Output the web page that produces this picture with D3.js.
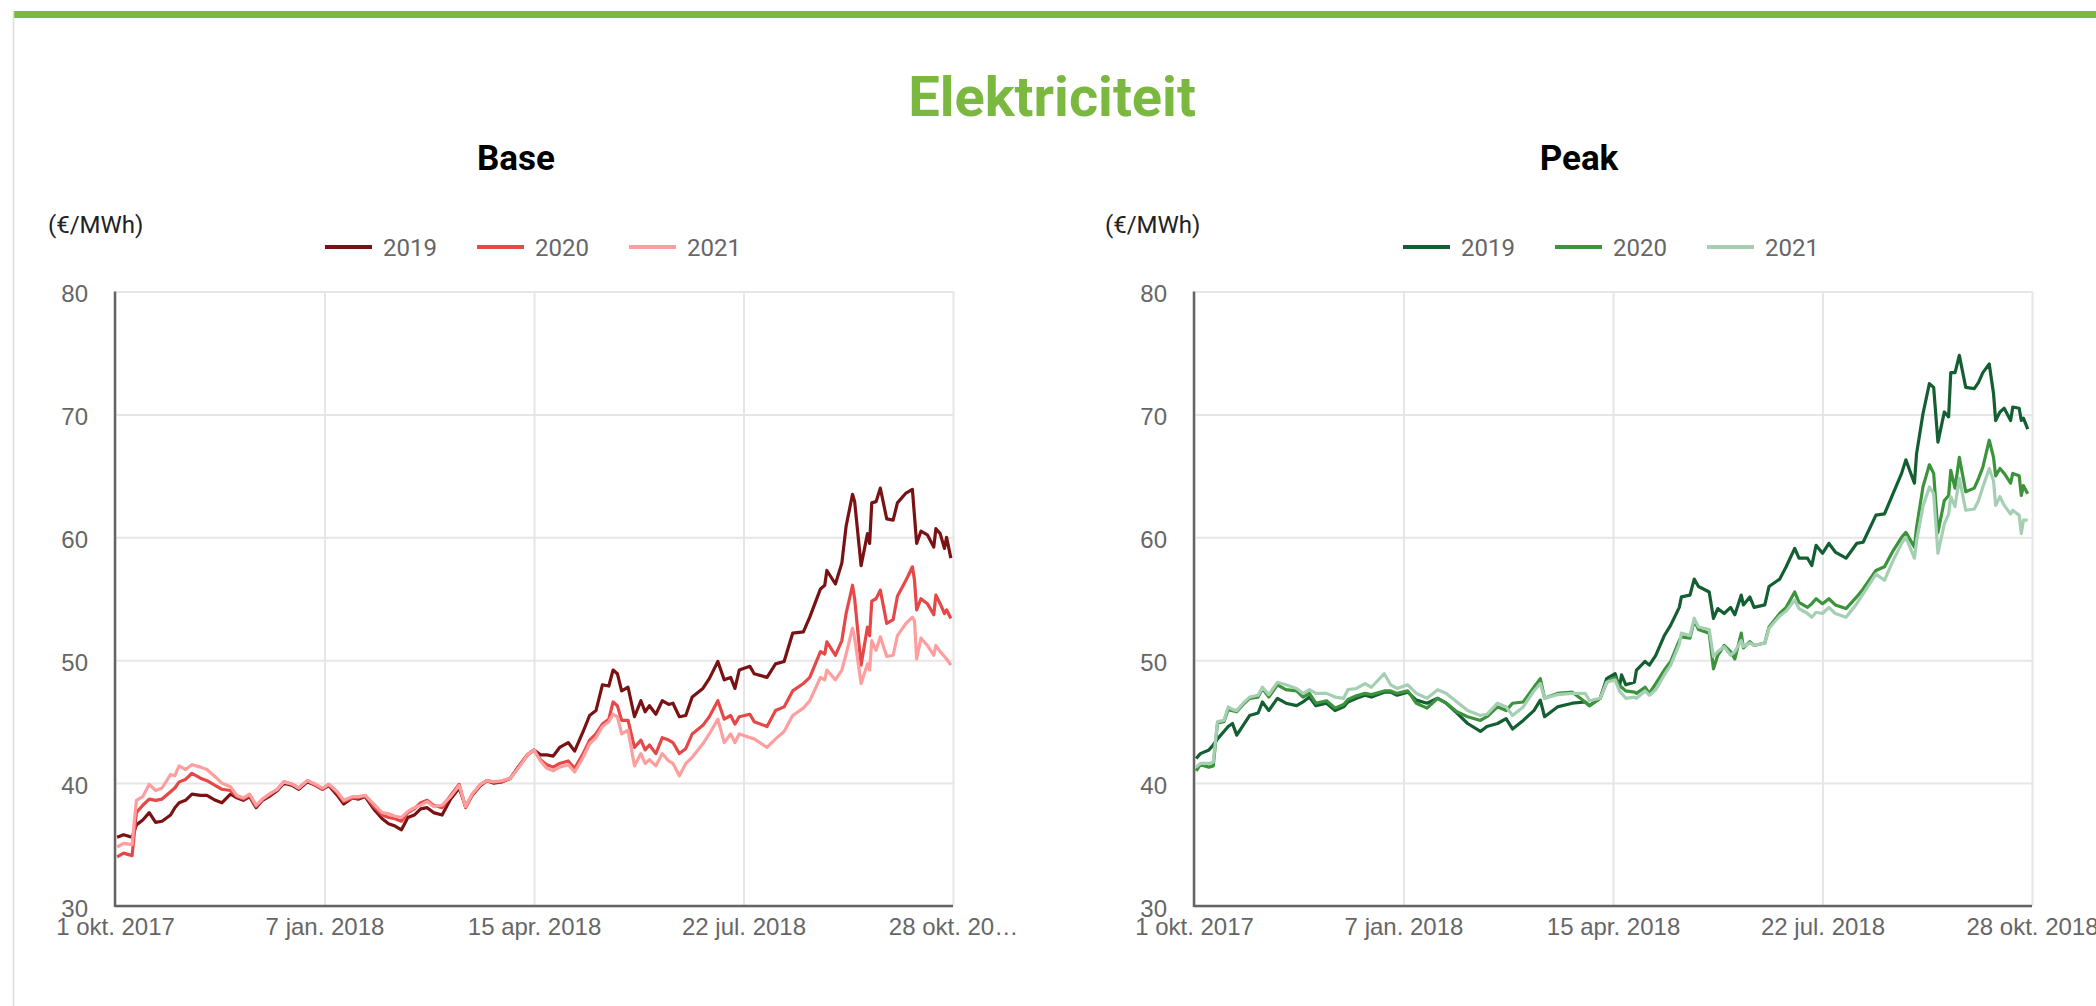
<!DOCTYPE html>
<html>
<head>
<meta charset="utf-8">
<script src="https://cdn.jsdelivr.net/npm/d3@7"></script>
<style>
  body { margin: 0; background: #fff; }
  svg { display: block; font-family: Roboto, "Noto Sans", sans-serif; }
</style>
</head>
<body>
<svg id="chart" width="2096" height="1006"></svg>
<script>
const years = ["2019", "2020", "2021"];
const tickDates = ["2017-10-01", "2018-01-07", "2018-04-15", "2018-07-22", "2018-10-28"];
const tickLabels = ["1 okt. 2017", "7 jan. 2018", "15 apr. 2018", "22 jul. 2018", "28 okt. 2018"];
const yTicks = [30, 40, 50, 60, 70, 80];

// days since 1 okt. 2017
const baseDays = [1,4,8,10,13,16,19,22,26,28,30,33,36,40,43,47,50,54,57,60,63,66,69,72,76,79,83,86,90,94,97,100,104,107,111,114,117,121,125,128,131,134,137,140,143,146,149,153,157,161,164,167,171,174,177,181,185,189,193,196,199,202,205,208,212,215,219,222,225,228,231,233,235,237,240,243,246,248,250,253,256,259,261,264,267,270,275,278,282,285,288,290,292,297,299,305,309,313,317,322,325,330,332,333,337,340,342,345,346,349,352,353,354,356,358,361,364,366,370,373,374,375,377,380,383,384,386,388,389,391];
const base2019 = [35.6,35.8,35.6,36.6,37.0,37.6,36.8,36.9,37.4,38.0,38.4,38.6,39.1,39.0,39.0,38.6,38.4,39.1,38.8,38.6,38.9,38.0,38.6,38.9,39.4,40.0,39.8,39.5,40.1,39.8,39.5,39.8,39.0,38.3,38.8,38.7,38.9,37.9,37.1,36.7,36.5,36.2,37.2,37.4,37.9,38.0,37.6,37.4,38.7,39.6,38.1,39.0,39.8,40.2,40.0,40.1,40.4,41.4,42.3,42.7,42.3,42.3,42.2,42.9,43.3,42.6,44.2,45.5,45.9,48.0,47.9,49.2,48.9,47.5,47.8,45.4,46.7,45.8,46.3,45.6,46.7,46.4,46.5,45.4,45.5,47.0,47.7,48.5,49.9,48.4,48.6,47.7,49.2,49.5,48.9,48.6,49.7,49.9,52.2,52.3,53.5,55.8,56.1,57.3,56.2,57.9,60.9,63.5,62.9,57.7,60.3,59.5,62.8,62.9,64.0,61.5,61.4,62.8,63.6,63.9,61.7,59.5,60.5,60.2,59.2,60.7,60.3,59.1,60.0,58.3];
const base2020 = [34.0,34.3,34.1,37.6,38.2,38.7,38.6,38.7,39.3,39.6,40.1,40.3,40.8,40.4,40.2,39.8,39.5,39.4,38.9,38.7,39.0,38.1,38.7,39.0,39.5,40.1,39.9,39.6,40.2,39.8,39.5,39.9,39.2,38.5,38.8,38.8,39.0,38.1,37.4,37.2,37.1,36.9,37.6,37.9,38.4,38.6,38.2,38.0,39.0,39.9,38.0,39.0,39.9,40.2,40.1,40.1,40.4,41.4,42.3,42.7,41.9,41.5,41.3,41.6,41.8,41.2,42.4,43.5,44.0,44.8,45.2,46.6,46.3,45.1,45.1,42.9,43.5,42.7,43.1,42.4,43.7,43.5,43.3,42.4,42.8,44.0,44.7,45.4,46.7,45.2,45.5,44.8,45.4,45.6,45.0,44.6,45.9,46.2,47.5,48.1,48.6,50.7,50.5,51.5,50.4,51.6,53.8,56.1,55.0,49.6,52.7,52.0,54.8,55.0,55.7,53.0,53.3,55.2,56.5,57.6,56.5,54.1,55.0,54.6,53.7,55.3,54.6,53.8,54.1,53.4];
const base2021 = [34.8,35.1,35.0,38.6,38.9,39.9,39.4,39.6,40.7,40.6,41.4,41.1,41.5,41.3,41.1,40.5,40.0,39.7,39.0,38.8,39.1,38.2,38.7,39.1,39.5,40.1,39.9,39.6,40.2,39.9,39.6,39.9,39.3,38.6,38.9,38.9,39.0,38.3,37.6,37.5,37.3,37.2,37.7,38.0,38.2,38.5,38.1,38.2,38.9,39.8,38.1,39.1,39.9,40.2,40.1,40.2,40.4,41.3,42.3,42.7,41.8,41.2,41.0,41.3,41.5,40.9,42.1,43.2,43.7,44.6,45.0,45.6,45.4,44.0,44.3,41.4,42.4,41.6,41.9,41.4,42.4,41.8,41.6,40.6,41.6,42.1,43.2,44.0,45.2,43.3,44.0,43.3,44.0,43.7,43.6,42.9,43.6,44.2,45.5,46.1,46.7,48.6,48.4,49.2,48.4,49.2,50.5,52.6,51.8,48.1,49.7,49.2,51.6,50.8,51.9,50.3,50.4,52.0,53.0,53.5,53.2,50.1,51.8,51.2,50.4,51.2,50.7,50.3,50.1,49.6];

const peakDays = [1,3,7,9,11,14,16,18,20,23,26,30,32,35,39,43,48,51,54,57,62,66,70,72,76,80,83,89,92,95,100,104,109,114,118,123,128,134,137,142,146,149,154,159,162,164,170,177,183,185,190,193,197,199,200,202,206,207,211,213,216,220,223,227,228,232,234,236,241,243,245,248,251,253,256,257,260,262,267,269,274,277,281,283,287,289,291,294,297,300,305,310,313,319,323,327,331,333,337,338,341,344,346,348,351,353,354,356,358,361,365,367,369,372,374,375,377,379,382,383,386,387,388,390];
const peak2019 = [42.0,42.4,42.7,43.1,43.6,44.2,44.6,44.85,43.9,44.7,45.5,45.7,46.6,45.9,46.9,46.5,46.3,46.6,47.0,46.3,46.5,45.9,46.2,46.6,46.9,47.15,47.0,47.4,47.4,47.15,47.4,46.75,46.5,46.9,46.5,45.7,44.85,44.2,44.6,44.85,45.25,44.4,45.1,45.9,46.75,45.4,46.2,46.5,46.6,46.3,46.9,48.5,48.9,47.8,48.8,48.0,48.2,49.2,49.9,49.6,50.4,52.0,52.85,54.3,55.15,55.3,56.6,56.0,55.55,53.4,54.2,53.8,54.3,53.7,55.3,54.5,55.15,54.3,54.5,56.0,56.6,57.6,59.1,58.3,58.3,57.7,59.35,58.7,59.5,58.8,58.3,59.5,59.6,61.8,61.9,63.55,65.2,66.3,64.4,66.8,70.05,72.5,72.2,67.75,70.2,69.8,73.4,73.4,74.8,72.2,72.1,72.6,73.4,74.1,71.7,69.5,70.2,70.5,69.5,70.6,70.5,69.5,69.7,68.8];
const peak2020 = [41.0,41.5,41.3,41.4,44.9,45.0,46.0,45.9,45.8,46.4,46.9,47.0,47.7,47.0,48.0,47.6,47.5,47.0,47.3,46.5,46.7,46.1,46.4,46.8,47.1,47.3,47.2,47.5,47.5,47.3,47.5,46.5,46.1,46.9,46.5,45.8,45.4,45.1,45.4,46.2,45.9,46.5,46.6,47.8,48.5,46.9,47.3,47.4,46.6,46.3,46.9,48.2,48.6,47.9,47.8,47.5,47.4,47.3,47.8,47.3,48.1,49.2,49.9,51.6,51.9,51.8,53.25,52.5,52.2,49.3,50.4,51.2,50.7,50.1,52.2,51.0,51.5,51.2,51.4,52.7,53.8,54.3,55.55,54.7,54.3,54.6,55.0,54.6,55.0,54.5,54.2,55.15,55.8,57.3,57.6,58.9,60.0,60.4,59.2,60.8,64.1,65.9,65.2,60.4,63.0,63.4,65.45,64.0,66.5,63.7,64.0,64.8,65.7,67.9,66.5,65.0,65.6,65.2,64.4,65.2,65.0,63.4,64.2,63.55];
const peak2021 = [41.3,41.6,41.6,41.7,45.0,45.1,46.2,46.0,45.9,46.5,47.0,47.15,47.8,47.2,48.2,48.0,47.7,47.3,47.6,47.3,47.3,47.0,46.9,47.6,47.7,48.1,47.8,48.9,48.0,47.7,48.0,47.3,46.9,47.6,47.3,46.6,45.9,45.5,45.6,46.5,46.2,45.5,46.2,47.5,48.1,46.9,47.2,47.3,47.3,46.7,46.9,48.2,48.4,47.5,47.3,46.9,47.0,46.9,47.5,47.15,47.6,48.8,49.6,51.3,52.2,52.0,53.4,52.7,52.5,50.3,50.7,51.1,50.4,50.7,51.6,51.1,51.4,51.2,51.4,52.6,53.6,54.0,54.9,54.2,53.8,53.5,53.9,53.8,54.3,53.8,53.5,54.6,55.4,57.0,56.5,58.1,59.5,60.0,58.3,59.7,62.5,64.1,63.55,58.7,61.1,61.9,63.3,62.5,64.8,62.2,62.3,63.0,64.1,65.6,64.6,62.6,63.3,62.6,61.9,62.2,61.8,60.3,61.4,61.4];

const svg = d3.select('#chart');
const start = new Date(Date.UTC(2017, 9, 1));
const toDate = d => d3.utcDay.offset(start, d);
const parseDay = d3.utcParse('%Y-%m-%d');

const gridColor = '#e6e6e6';
const axisColor = '#646464';
const labelColor = '#666';

// card with green top border
svg.append('rect').attr('x', 13).attr('y', 11).attr('width', 2083).attr('height', 7).attr('fill', '#7ab83f');
svg.append('line').attr('x1', 13.5).attr('x2', 13.5).attr('y1', 11).attr('y2', 1006)
  .attr('stroke', '#dcdcdc').attr('stroke-width', 1.5);

svg.append('text')
  .attr('x', 1052).attr('y', 116)
  .attr('text-anchor', 'middle')
  .attr('font-size', 56).attr('font-weight', 700)
  .attr('fill', '#7ab83f')
  .text('Elektriciteit');

function drawPanel(opt) {
  const x = d3.scaleUtc()
    .domain([parseDay(tickDates[0]), parseDay(tickDates[tickDates.length - 1])])
    .range([opt.x0, opt.x1]);
  const y = d3.scaleLinear().domain([30, 80]).range([906, 291.5]);
  const g = svg.append('g');

  g.append('text')
    .attr('x', opt.titleX).attr('y', 170)
    .attr('text-anchor', 'middle')
    .attr('font-size', 35).attr('font-weight', 700)
    .attr('fill', '#000')
    .text(opt.title);

  g.append('text')
    .attr('x', opt.unitX).attr('y', 233)
    .attr('font-size', 24).attr('fill', '#222')
    .text('(€/MWh)');

  const legend = g.selectAll('.legend')
    .data(years)
    .enter()
    .append('g')
    .attr('transform', (d, i) => `translate(${opt.legendX + i * 152},0)`);
  legend.append('line')
    .attr('x1', 0).attr('x2', 47).attr('y1', 247).attr('y2', 247)
    .attr('stroke', (d, i) => opt.colors[i]).attr('stroke-width', 4);
  legend.append('text')
    .attr('x', 58).attr('y', 256)
    .attr('font-size', 24).attr('fill', labelColor)
    .text(d => d);

  // horizontal grid + y labels
  const yAxis = g.append('g')
    .attr('transform', `translate(${opt.x0},0)`)
    .call(d3.axisLeft(y).tickValues(yTicks).tickSize(-(opt.x1 - opt.x0)).tickPadding(27).tickFormat(d3.format('d')));
  yAxis.select('.domain').remove();
  yAxis.selectAll('line').attr('stroke', gridColor).attr('stroke-width', 2);
  yAxis.selectAll('text').attr('font-size', 24).attr('fill', labelColor).attr('dy', '0.42em')
    .attr('font-family', null);

  // vertical grid + x labels (ellipsis when a label runs out of its panel)
  const xAxis = g.append('g')
    .attr('transform', 'translate(0,906)')
    .call(d3.axisBottom(x).tickValues(tickDates.map(parseDay)).tickSize(-(906 - 291.5)).tickPadding(12)
      .tickFormat((d, i) => tickLabels[i]));
  xAxis.select('.domain').remove();
  xAxis.selectAll('line').attr('stroke', gridColor).attr('stroke-width', 2);
  xAxis.selectAll('text').attr('font-size', 24).attr('fill', labelColor).attr('font-family', null)
    .each(function(d) {
      const el = this;
      const cx = x(d);
      let s = el.textContent;
      if (cx + el.getComputedTextLength() / 2 <= opt.labelMaxRight) return;
      while (cx + el.getComputedTextLength() / 2 > opt.labelMaxRight && s.length > 1) {
        s = s.slice(0, -1).trimEnd();
        el.textContent = s;
      }
      el.textContent = s + '…';
    });

  // axis lines
  g.append('line').attr('x1', opt.x0).attr('x2', opt.x0).attr('y1', 291.5).attr('y2', 907)
    .attr('stroke', axisColor).attr('stroke-width', 2.5);
  g.append('line').attr('x1', opt.x0).attr('x2', opt.x1).attr('y1', 906).attr('y2', 906)
    .attr('stroke', axisColor).attr('stroke-width', 2.5);

  const line = d3.line()
    .x((v, i) => x(toDate(opt.days[i])))
    .y(v => y(v));

  g.selectAll('.series')
    .data(opt.series)
    .enter()
    .append('path')
    .attr('d', d => line(d))
    .attr('fill', 'none')
    .attr('stroke', (d, i) => opt.colors[i])
    .attr('stroke-width', 3.2)
    .attr('stroke-linejoin', 'round');
}

drawPanel({
  title: 'Base', titleX: 516, unitX: 48, legendX: 325,
  x0: 115, x1: 953, labelMaxRight: 1010,
  days: baseDays, series: [base2019, base2020, base2021],
  colors: ['#7a1214', '#e64848', '#ff9e9e']
});

drawPanel({
  title: 'Peak', titleX: 1579, unitX: 1105, legendX: 1403,
  x0: 1194, x1: 2032, labelMaxRight: Infinity,
  days: peakDays, series: [peak2019, peak2020, peak2021],
  colors: ['#145f31', '#3b933b', '#a5cfb3']
});
</script>
</body>
</html>
